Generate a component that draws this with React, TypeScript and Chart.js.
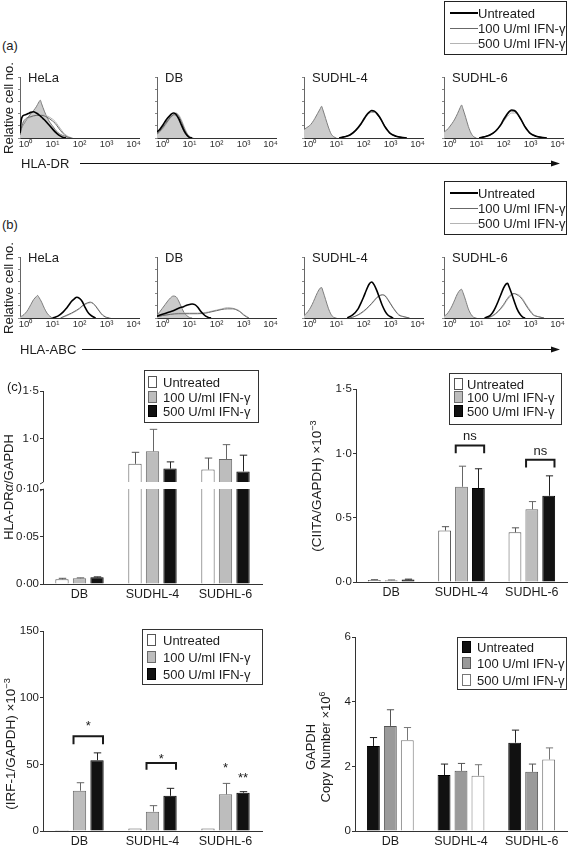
import React, { useEffect, useRef } from "react";
import { Chart, registerables } from "chart.js";

Chart.register(...registerables);

const FONT = "'Liberation Sans', Arial, Helvetica, sans-serif";
Chart.defaults.font.family = FONT;
Chart.defaults.color = "#1c1c1c";

type Pt = [number, number];

// ================= DATA =================
const cellLines = ["HeLa", "DB", "SUDHL-4", "SUDHL-6"];
const treatmentLabels = ["Untreated", "100 U/ml IFN-γ", "500 U/ml IFN-γ"];
const decadeTicks = [0, 1, 2, 3, 4];
const decadeLabels = ["10⁰", "10¹", "10²", "10³", "10⁴"];
const countTicks = [0, 20, 40, 60, 80, 100];

// (a) HLA-DR histograms: [log10 fluorescence, relative cell no. %]
const drHelaControl: Pt[] = [[-0.2,12],[-0.1,20],[0,27],[0.1,34],[0.2,40],[0.3,45],[0.4,51],[0.5,59],[0.55,62],[0.6,56],[0.7,44],[0.8,34],[0.9,26],[1.0,20],[1.1,14],[1.2,9],[1.3,6],[1.45,3],[1.6,1],[1.7,0]];
const drHelaUntreated: Pt[] = [[-0.2,8],[-0.15,30],[-0.1,36],[0,38],[0.1,40],[0.2,42],[0.3,43],[0.4,41],[0.5,38],[0.6,34],[0.7,30],[0.8,25],[0.9,20],[1.0,15],[1.1,10],[1.2,6],[1.3,3],[1.4,1],[1.5,0]];
const drHela100: Pt[] = [[-0.2,5],[-0.1,24],[0,31],[0.2,35],[0.4,37],[0.6,37],[0.8,34],[1.0,28],[1.1,24],[1.2,18],[1.3,12],[1.4,7],[1.5,3],[1.6,1],[1.7,0]];
const drHela500: Pt[] = [[-0.2,5],[-0.1,21],[0,29],[0.2,34],[0.4,37],[0.6,38],[0.8,36],[1.0,31],[1.1,27],[1.2,21],[1.3,15],[1.4,9],[1.5,5],[1.6,2],[1.75,0]];

const drDbControl: Pt[] = [[-0.2,8],[-0.1,12],[0,18],[0.1,24],[0.2,30],[0.3,35],[0.4,38],[0.5,37],[0.6,30],[0.7,20],[0.8,10],[0.9,4],[1.0,1],[1.1,0]];
const drDbUntreated: Pt[] = [[-0.2,10],[-0.1,14],[0,20],[0.1,27],[0.2,33],[0.3,38],[0.4,41],[0.5,39],[0.6,32],[0.7,22],[0.8,12],[0.9,5],[1.0,1],[1.1,0]];
const drDb100: Pt[] = [[-0.2,6],[0,16],[0.1,22],[0.2,28],[0.3,34],[0.4,38],[0.5,40],[0.6,36],[0.7,27],[0.8,16],[0.9,7],[1.0,2],[1.1,0]];
const drDb500: Pt[] = [[-0.2,6],[0,14],[0.1,20],[0.2,27],[0.3,33],[0.4,37],[0.5,41],[0.6,38],[0.7,30],[0.8,19],[0.9,9],[1.0,3],[1.15,0]];

const drSu4Control: Pt[] = [[-0.2,14],[-0.1,17],[0,20],[0.1,25],[0.2,32],[0.3,40],[0.4,48],[0.45,52],[0.5,46],[0.6,32],[0.7,18],[0.8,7],[0.9,2],[1.0,0]];
const drSu4Untreated: Pt[] = [[1.1,0],[1.3,2],[1.5,5],[1.7,12],[1.9,23],[2.0,30],[2.1,37],[2.2,42],[2.3,45],[2.4,44],[2.5,40],[2.6,34],[2.7,26],[2.8,18],[2.9,12],[3.0,7],[3.2,3],[3.4,1],[3.6,0]];
const drSu4100: Pt[] = [[1.1,0],[1.3,2],[1.5,5],[1.7,11],[1.9,22],[2.0,29],[2.1,36],[2.2,41],[2.3,43],[2.4,43],[2.5,39],[2.6,33],[2.7,26],[2.8,18],[2.9,12],[3.0,7],[3.2,3],[3.4,1],[3.6,0]];
const drSu4500: Pt[] = [[1.1,0],[1.3,2],[1.5,6],[1.7,12],[1.9,21],[2.0,28],[2.1,35],[2.2,40],[2.3,42],[2.4,42],[2.5,39],[2.6,34],[2.7,27],[2.8,19],[2.9,13],[3.0,8],[3.2,3],[3.4,1],[3.6,0]];

const drSu6Control: Pt[] = [[-0.2,10],[-0.1,13],[0,18],[0.1,24],[0.2,31],[0.3,40],[0.4,50],[0.45,54],[0.5,48],[0.6,34],[0.7,19],[0.8,8],[0.9,2],[1.0,0]];
const drSu6Untreated: Pt[] = [[1.1,0],[1.3,2],[1.5,5],[1.7,11],[1.9,22],[2.0,30],[2.1,37],[2.2,43],[2.3,46],[2.4,45],[2.5,41],[2.6,34],[2.7,26],[2.8,18],[2.9,12],[3.0,7],[3.2,3],[3.4,1],[3.6,0]];
const drSu6100: Pt[] = [[1.1,0],[1.3,2],[1.5,5],[1.7,10],[1.9,21],[2.0,28],[2.1,35],[2.2,41],[2.3,44],[2.4,44],[2.5,40],[2.6,33],[2.7,26],[2.8,18],[2.9,12],[3.0,7],[3.2,3],[3.4,1],[3.6,0]];
const drSu6500: Pt[] = [[1.1,0],[1.3,2],[1.5,6],[1.7,11],[1.9,20],[2.0,27],[2.1,33],[2.2,38],[2.3,41],[2.4,41],[2.5,39],[2.6,34],[2.7,27],[2.8,19],[2.9,13],[3.0,8],[3.2,3],[3.4,1],[3.6,0]];

// (b) HLA-ABC histograms
const abcHelaControl: Pt[] = [[-0.2,2],[-0.1,4],[0,8],[0.1,14],[0.2,22],[0.3,30],[0.4,35],[0.45,37],[0.5,34],[0.6,26],[0.7,16],[0.8,8],[0.9,3],[1.0,0]];
const abcHelaUntreated: Pt[] = [[1.0,0],[1.2,3],[1.4,10],[1.5,15],[1.6,21],[1.7,27],[1.8,31],[1.9,34],[2.0,32],[2.1,27],[2.2,18],[2.3,10],[2.4,5],[2.5,2],[2.6,0]];
const abcHela100: Pt[] = [[1.3,0],[1.5,4],[1.7,8],[1.9,13],[2.0,16],[2.1,20],[2.2,23],[2.3,25],[2.4,26],[2.5,24],[2.6,19],[2.7,13],[2.8,7],[2.9,3],[3.0,1],[3.1,0]];
const abcHela500: Pt[] = [[1.3,0],[1.5,3],[1.7,7],[1.9,12],[2.0,15],[2.1,19],[2.2,22],[2.3,24],[2.4,25],[2.5,24],[2.6,20],[2.7,14],[2.8,8],[2.9,4],[3.0,1],[3.15,0]];

const abcDbControl: Pt[] = [[-0.2,5],[-0.1,10],[0,16],[0.1,22],[0.2,28],[0.3,33],[0.4,36],[0.5,35],[0.6,28],[0.7,18],[0.8,9],[0.9,4],[1.0,1],[1.1,0]];
const abcDbUntreated: Pt[] = [[-0.2,3],[0,6],[0.2,9],[0.4,12],[0.6,16],[0.8,19],[0.9,21],[1.0,22],[1.1,23],[1.2,22],[1.3,18],[1.4,12],[1.5,7],[1.6,3],[1.7,1],[1.8,0]];
const abcDb100: Pt[] = [[-0.2,2],[0,4],[0.3,6],[0.6,7],[1.0,7],[1.3,7],[1.6,8],[1.8,10],[2.0,12],[2.2,14],[2.4,15],[2.6,15],[2.8,12],[2.9,9],[3.0,5],[3.1,2],[3.2,0]];
const abcDb500: Pt[] = [[-0.2,2],[0,4],[0.3,6],[0.6,8],[1.0,8],[1.3,8],[1.6,9],[1.8,11],[2.0,13],[2.2,15],[2.4,17],[2.6,16],[2.8,13],[2.9,10],[3.0,6],[3.1,3],[3.2,0]];

const abcSu4Control: Pt[] = [[-0.2,4],[-0.1,8],[0,14],[0.1,22],[0.2,32],[0.3,42],[0.4,49],[0.45,50],[0.5,44],[0.6,30],[0.7,16],[0.8,6],[0.9,1],[1.0,0]];
const abcSu4Untreated: Pt[] = [[1.4,0],[1.6,5],[1.8,15],[1.9,24],[2.0,34],[2.1,45],[2.2,55],[2.3,59],[2.4,54],[2.5,44],[2.6,32],[2.7,20],[2.8,11],[2.9,5],[3.0,2],[3.1,0]];
const abcSu4100: Pt[] = [[1.5,0],[1.7,3],[1.9,8],[2.1,15],[2.3,24],[2.4,29],[2.5,34],[2.6,37],[2.7,38],[2.8,36],[2.9,30],[3.0,23],[3.1,16],[3.2,10],[3.3,5],[3.5,2],[3.7,0]];
const abcSu4500: Pt[] = [[1.5,0],[1.7,3],[1.9,7],[2.1,14],[2.3,23],[2.4,28],[2.5,33],[2.6,36],[2.7,38],[2.8,37],[2.9,31],[3.0,24],[3.1,17],[3.2,11],[3.3,6],[3.5,2],[3.7,0]];

const abcSu6Control: Pt[] = [[-0.2,3],[-0.1,6],[0,12],[0.1,20],[0.2,30],[0.3,40],[0.4,46],[0.45,47],[0.5,42],[0.6,29],[0.7,15],[0.8,6],[0.9,1],[1.0,0]];
const abcSu6Untreated: Pt[] = [[1.3,0],[1.5,4],[1.6,9],[1.7,17],[1.8,27],[1.9,38],[2.0,49],[2.1,56],[2.15,57],[2.2,52],[2.3,40],[2.4,27],[2.5,15],[2.6,7],[2.7,2],[2.8,0]];
const abcSu6100: Pt[] = [[1.4,0],[1.6,4],[1.8,11],[2.0,22],[2.1,29],[2.2,35],[2.3,39],[2.4,40],[2.5,38],[2.6,35],[2.7,30],[2.8,23],[2.9,16],[3.0,10],[3.1,5],[3.3,2],[3.5,0]];
const abcSu6500: Pt[] = [[1.4,0],[1.6,3],[1.8,10],[2.0,20],[2.1,27],[2.2,33],[2.3,37],[2.4,40],[2.5,39],[2.6,37],[2.7,32],[2.8,25],[2.9,18],[3.0,12],[3.1,6],[3.3,2],[3.5,0]];

// (c) bar charts
const barCategories = ["DB", "SUDHL-4", "SUDHL-6"];

const hlaDrUntreated = [0.005, 0.74, 0.68];
const hlaDrUntreatedErr = [0.001, 0.12, 0.12];
const hlaDr100 = [0.006, 0.87, 0.79];
const hlaDr100Err = [0.0005, 0.23, 0.15];
const hlaDr500 = [0.007, 0.69, 0.66];
const hlaDr500Err = [0.0005, 0.07, 0.17];
const hlaDrLowTicks = [0, 0.05, 0.1];
const hlaDrLowTickLabels = ["0·00", "0·05", "0·10"];
const hlaDrHighTicks = [1.0, 1.5];
const hlaDrHighTickLabels = ["1·0", "1·5"];

const ciitaUntreated = [0.016, 0.40, 0.386];
const ciitaUntreatedErr = [0.002, 0.03, 0.035];
const ciita100 = [0.014, 0.74, 0.565];
const ciita100Err = [0.002, 0.16, 0.06];
const ciita500 = [0.02, 0.73, 0.67];
const ciita500Err = [0.002, 0.15, 0.155];
const ciitaTicks = [0, 0.5, 1.0, 1.5];
const ciitaTickLabels = ["0·0", "0·5", "1·0", "1·5"];
const ciitaBracketCats = [1, 2];
const ciitaBracketTops = [1.06, 0.95];
const ciitaBracketLegs = [1.0, 0.89];
const ciitaMarkCats = [1, 2];
const ciitaMarkSeries = [-1, -1];
const ciitaMarkValues = [1.134, 1.018];
const ciitaMarkTexts = ["ns", "ns"];

const irfUntreated = [0.7, 1.8, 1.8];
const irfUntreatedErr = [0, 0, 0];
const irf100 = [30.2, 14.5, 27.5];
const irf100Err = [6.0, 4.5, 8.2];
const irf500 = [53.1, 26.4, 28.7];
const irf500Err = [5.5, 5.6, 0.8];
const irfTicks = [0, 50, 100, 150];
const irfBracketCats = [0, 1];
const irfBracketTops = [71, 51];
const irfBracketLegs = [65, 46];
const irfMarkCats = [0, 1, 2, 2];
const irfMarkSeries = [-1, -1, 1, 2];
const irfMarkValues = [78.6, 53.9, 47.2, 39.7];
const irfMarkTexts = ["*", "*", "*", "**"];

const gapdhUntreated = [2.63, 1.73, 2.73];
const gapdhUntreatedErr = [0.26, 0.34, 0.39];
const gapdh100 = [3.25, 1.86, 1.83];
const gapdh100Err = [0.5, 0.23, 0.24];
const gapdh500 = [2.81, 1.71, 2.21];
const gapdh500Err = [0.39, 0.34, 0.36];
const gapdhTicks = [0, 2, 4, 6];

// ================= HELPERS =================
type Area = { left: number; top: number; right: number; bottom: number };
type Pad = { l: number; t: number; r: number; b: number; yW: number; xH: number };

function ChartBox({ area, pad, build }: { area: Area; pad: Pad; build: () => any }) {
  const ref = useRef<HTMLCanvasElement>(null);
  const cl = area.left - pad.yW - pad.l;
  const ct = area.top - pad.t;
  const cw = area.right - area.left + pad.yW + pad.l + pad.r;
  const ch = area.bottom - area.top + pad.t + pad.xH + pad.b;
  useEffect(() => {
    const cfg = build();
    cfg.options.animation = false;
    cfg.options.responsive = false;
    cfg.options.events = [];
    cfg.options.layout = { padding: { left: pad.l, top: pad.t, right: pad.r, bottom: pad.b } };
    cfg.options.scales.x.afterFit = (s: any) => { s.height = pad.xH; s.paddingLeft = 0; s.paddingRight = 0; };
    cfg.options.scales.y.afterFit = (s: any) => { s.width = pad.yW; s.paddingTop = 0; s.paddingBottom = 0; };
    const chart = new Chart(ref.current as HTMLCanvasElement, cfg);
    return () => chart.destroy();
  }, []);
  return (
    <canvas ref={ref} width={cw} height={ch}
      style={{ position: "absolute", left: cl, top: ct, width: cw, height: ch }} />
  );
}

const toXY = (pts: Pt[]) => pts.map(([x, y]) => ({ x, y }));

function histConfig(control: Pt[], untreated: Pt[], ifn100: Pt[], ifn500: Pt[]) {
  return {
    type: "line",
    data: {
      datasets: [
        { data: toXY(untreated), borderColor: "#000", borderWidth: 1.6, fill: false },
        { data: toXY(ifn100), borderColor: "#686868", borderWidth: 1, fill: false },
        { data: toXY(ifn500), borderColor: "#b4b4b4", borderWidth: 1, fill: false },
        { data: toXY(control), borderColor: "#7d7d7d", backgroundColor: "#cbcbcb", borderWidth: 1, fill: "origin" },
      ],
    },
    options: {
      elements: { point: { radius: 0 }, line: { cubicInterpolationMode: "monotone" } },
      plugins: { legend: { display: false }, tooltip: { enabled: false } },
      scales: {
        x: {
          type: "linear", min: -0.2, max: 4.2,
          afterBuildTicks: (s: any) => { s.ticks = decadeTicks.map((v) => ({ value: v })); },
          ticks: { callback: (_v: any, i: number) => decadeLabels[i], font: { size: 9.5 }, padding: 1, maxRotation: 0, autoSkip: false, color: "#333" },
          grid: { display: false, drawTicks: false },
          border: { display: true, color: "#333", width: 1 },
        },
        y: {
          min: 0, max: 100,
          afterBuildTicks: (s: any) => { s.ticks = countTicks.map((v) => ({ value: v })); },
          ticks: { display: false },
          grid: { display: true, drawOnChartArea: false, tickLength: 2, color: "#888" },
          border: { display: true, color: "#666", width: 1 },
        },
      },
    },
  };
}

const errorBarPlugin = {
  id: "errorBars",
  afterDatasetsDraw(chart: any) {
    const { ctx, chartArea: a } = chart;
    const ys = chart.scales.y;
    ctx.save();
    ctx.beginPath();
    ctx.rect(a.left - 3, a.top - 1, a.right - a.left + 6, a.bottom - a.top + 1);
    ctx.clip();
    chart.data.datasets.forEach((ds: any, i: number) => {
      if (!ds.errors) return;
      const meta = chart.getDatasetMeta(i);
      meta.data.forEach((bar: any, j: number) => {
        const e = ds.errors[j];
        if (!e) return;
        const v = ds.data[j];
        const yTop = ys.getPixelForValue(v + e);
        const half = bar.width * 0.28;
        const x = Math.round(bar.x) + 0.5;
        ctx.strokeStyle = ds.errorColor;
        ctx.lineWidth = 1;
        ctx.beginPath();
        ctx.moveTo(x, bar.y);
        ctx.lineTo(x, yTop);
        ctx.moveTo(x - half, yTop);
        ctx.lineTo(x + half, yTop);
        ctx.stroke();
      });
    });
    ctx.restore();
  },
};

function significancePlugin(bCats: number[], bTops: number[], bLegs: number[], mCats: number[], mSeries: number[], mValues: number[], mTexts: string[], size: number) {
  return {
    id: "significance",
    afterDatasetsDraw(chart: any) {
      const { ctx } = chart;
      const ys = chart.scales.y;
      const g = chart.getDatasetMeta(1).data;
      const k = chart.getDatasetMeta(2).data;
      ctx.save();
      ctx.strokeStyle = "#1a1a1a";
      ctx.lineWidth = 2;
      bCats.forEach((c, i) => {
        const x0 = g[c].x - g[c].width * 0.45;
        const x1 = k[c].x + k[c].width * 0.45;
        const yT = ys.getPixelForValue(bTops[i]);
        const yL = ys.getPixelForValue(bLegs[i]);
        ctx.beginPath();
        ctx.moveTo(x0, yL);
        ctx.lineTo(x0, yT);
        ctx.lineTo(x1, yT);
        ctx.lineTo(x1, yL);
        ctx.stroke();
      });
      ctx.fillStyle = "#1a1a1a";
      ctx.textAlign = "center";
      ctx.textBaseline = "middle";
      ctx.font = `${size}px ${FONT}`;
      mCats.forEach((c, i) => {
        const s = mSeries[i];
        const x = s < 0 ? (g[c].x + k[c].x) / 2 : chart.getDatasetMeta(s).data[c].x;
        ctx.fillText(mTexts[i], x, ys.getPixelForValue(mValues[i]));
      });
      ctx.restore();
    },
  };
}

const axisBreakPlugin = {
  id: "axisBreak",
  afterDraw(chart: any) {
    const { ctx, chartArea: a } = chart;
    ctx.save();
    ctx.strokeStyle = "#333";
    ctx.lineWidth = 1;
    ctx.beginPath();
    ctx.moveTo(a.left - 3, a.top + 2);
    ctx.lineTo(a.left + 0.5, a.top);
    ctx.moveTo(a.left - 3, a.top - 5);
    ctx.lineTo(a.left + 0.5, a.top - 7);
    ctx.stroke();
    ctx.restore();
  },
};

type Series = { data: number[]; errors: number[]; fill: string; border: string; err: string };

function barConfig(series: Series[], yMin: number, yMax: number, ticks: number[], tickLabels: string[], showX: boolean, plugins: any[]) {
  return {
    type: "bar",
    data: {
      labels: barCategories,
      datasets: series.map((s, i) => ({
        label: treatmentLabels[i],
        data: s.data,
        errors: s.errors,
        errorColor: s.err,
        backgroundColor: s.fill,
        borderColor: s.border,
        borderWidth: 1,
        borderSkipped: "start",
        categoryPercentage: 0.72,
        barPercentage: 0.76,
        clip: 0,
      })),
    },
    options: {
      plugins: { legend: { display: false }, tooltip: { enabled: false } },
      scales: {
        x: {
          type: "category", offset: true, display: showX,
          grid: { display: false, drawTicks: false },
          border: { display: true, color: "#333", width: 1 },
          ticks: { font: { size: 12.5 }, padding: 3, maxRotation: 0, autoSkip: false, color: "#1c1c1c" },
        },
        y: {
          min: yMin, max: yMax,
          afterBuildTicks: (s: any) => { s.ticks = ticks.map((v) => ({ value: v })); },
          ticks: { callback: (_v: any, i: number) => tickLabels[i], font: { size: 11.5 }, padding: 1, color: "#1c1c1c" },
          grid: { display: true, drawOnChartArea: false, tickLength: 3, color: "#333" },
          border: { display: true, color: "#333", width: 1 },
        },
      },
    },
    plugins: [errorBarPlugin, ...plugins],
  };
}

const WHITE = "#ffffff";
const LIGHT = "#bdbdbd";
const DARK = "#111111";
const MID = "#9a9a9a";

const drSeries: Series[] = [
  { data: hlaDrUntreated, errors: hlaDrUntreatedErr, fill: WHITE, border: "#555", err: "#555" },
  { data: hlaDr100, errors: hlaDr100Err, fill: LIGHT, border: "#6a6a6a", err: "#666" },
  { data: hlaDr500, errors: hlaDr500Err, fill: DARK, border: "#000", err: "#222" },
];
const ciitaSeries: Series[] = [
  { data: ciitaUntreated, errors: ciitaUntreatedErr, fill: WHITE, border: "#555", err: "#555" },
  { data: ciita100, errors: ciita100Err, fill: LIGHT, border: "#6a6a6a", err: "#666" },
  { data: ciita500, errors: ciita500Err, fill: DARK, border: "#000", err: "#222" },
];
const irfSeries: Series[] = [
  { data: irfUntreated, errors: irfUntreatedErr, fill: WHITE, border: "#555", err: "#555" },
  { data: irf100, errors: irf100Err, fill: LIGHT, border: "#6a6a6a", err: "#666" },
  { data: irf500, errors: irf500Err, fill: DARK, border: "#000", err: "#222" },
];
const gapdhSeries: Series[] = [
  { data: gapdhUntreated, errors: gapdhUntreatedErr, fill: DARK, border: "#000", err: "#222" },
  { data: gapdh100, errors: gapdh100Err, fill: MID, border: "#555", err: "#555" },
  { data: gapdh500, errors: gapdh500Err, fill: WHITE, border: "#777", err: "#777" },
];

// ================= TEXT / LEGEND COMPONENTS =================
function Label({ x, y, size = 13, center = false, children }: any) {
  return (
    <div style={{
      position: "absolute", left: x, top: y, fontSize: size, lineHeight: `${size + 2}px`, whiteSpace: "nowrap",
      transform: center ? "translate(-50%,-50%)" : "translateY(-50%)",
    }}>{children}</div>
  );
}

function VLabel({ cx, cy, size = 13, children }: any) {
  return (
    <div style={{
      position: "absolute", left: cx, top: cy, fontSize: size, lineHeight: `${size + 2}px`, whiteSpace: "nowrap",
      textAlign: "center", transform: "translate(-50%,-50%) rotate(-90deg)",
    }}>{children}</div>
  );
}

const supStyle: any = { fontSize: "0.68em", verticalAlign: "super", lineHeight: 0 };

function HistLegend({ top }: { top: number }) {
  const rows = [top + 12, top + 27, top + 42];
  const colors = ["#000", "#686868", "#b4b4b4"];
  const widths = [2, 1, 1];
  return (
    <>
      <div style={{ position: "absolute", left: 444, top, width: 123, height: 54, border: "1.5px solid #222", boxSizing: "border-box" }} />
      {treatmentLabels.map((t, i) => (
        <React.Fragment key={t}>
          <div style={{ position: "absolute", left: 450, top: rows[i] - widths[i] / 2, width: 28, height: widths[i], background: colors[i] }} />
          <Label x={478} y={rows[i]} size={13}>{t}</Label>
        </React.Fragment>
      ))}
    </>
  );
}

function BarLegend({ left, top, width, height, rows, swatchX, textX, fills, borders }: any) {
  return (
    <>
      <div style={{ position: "absolute", left, top, width, height, border: "1.5px solid #333", boxSizing: "border-box", background: "transparent" }} />
      {treatmentLabels.map((t, i) => (
        <React.Fragment key={t}>
          <div style={{ position: "absolute", left: swatchX, top: rows[i] - 6, width: 9, height: 12, background: fills[i], border: `1px solid ${borders[i]}`, boxSizing: "border-box" }} />
          <Label x={textX} y={rows[i]} size={13}>{t}</Label>
        </React.Fragment>
      ))}
    </>
  );
}

// ================= APP =================
const histX = [20, 157, 304, 444];
const histPad: Pad = { l: 2, t: 3, r: 6, b: 1, yW: 3, xH: 13 };

const drPanels = [
  [drHelaControl, drHelaUntreated, drHela100, drHela500],
  [drDbControl, drDbUntreated, drDb100, drDb500],
  [drSu4Control, drSu4Untreated, drSu4100, drSu4500],
  [drSu6Control, drSu6Untreated, drSu6100, drSu6500],
];
const abcPanels = [
  [abcHelaControl, abcHelaUntreated, abcHela100, abcHela500],
  [abcDbControl, abcDbUntreated, abcDb100, abcDb500],
  [abcSu4Control, abcSu4Untreated, abcSu4100, abcSu4500],
  [abcSu6Control, abcSu6Untreated, abcSu6100, abcSu6500],
];

function HistRow({ panels, top, bottom }: { panels: Pt[][][]; top: number; bottom: number }) {
  return (
    <>
      {panels.map((p, i) => (
        <ChartBox key={i} area={{ left: histX[i], top, right: histX[i] + 119, bottom }} pad={histPad}
          build={() => histConfig(p[0], p[1], p[2], p[3])} />
      ))}
      {cellLines.map((n, i) => (
        <Label key={n} x={histX[i] + 8} y={top} size={13}>{n}</Label>
      ))}
    </>
  );
}

export default function App() {
  useEffect(() => {
    document.body.style.margin = "0";
    document.body.style.overflow = "hidden";
  }, []);
  const barPad: Pad = { l: 2, t: 8, r: 4, b: 0, yW: 40, xH: 18 };
  return (
    <div style={{ position: "absolute", left: 0, top: 0, width: 569, height: 849, overflow: "hidden", background: "#fff", fontFamily: FONT, color: "#1c1c1c" }}>
      {/* (a) */}
      <HistRow panels={drPanels} top={77} bottom={138} />
      {/* (b) */}
      <HistRow panels={abcPanels} top={257} bottom={318} />

      {/* (c) HLA-DRα/GAPDH broken axis: upper + lower segment */}
      <ChartBox area={{ left: 43, top: 391, right: 262, bottom: 482 }} pad={{ l: 2, t: 8, r: 4, b: 0, yW: 40, xH: 0 }}
        build={() => barConfig(drSeries, 0.55, 1.5, hlaDrHighTicks, hlaDrHighTickLabels, false, [])} />
      <ChartBox area={{ left: 43, top: 489, right: 262, bottom: 584 }} pad={{ l: 2, t: 8, r: 4, b: 2, yW: 40, xH: 18 }}
        build={() => barConfig(drSeries, 0, 0.1, hlaDrLowTicks, hlaDrLowTickLabels, true, [axisBreakPlugin])} />
      <ChartBox area={{ left: 356, top: 389, right: 567, bottom: 582 }} pad={{ l: 2, t: 8, r: 1, b: 2, yW: 40, xH: 18 }}
        build={() => barConfig(ciitaSeries, 0, 1.5, ciitaTicks, ciitaTickLabels, true,
          [significancePlugin(ciitaBracketCats, ciitaBracketTops, ciitaBracketLegs, ciitaMarkCats, ciitaMarkSeries, ciitaMarkValues, ciitaMarkTexts, 13)])} />
      <ChartBox area={{ left: 43, top: 631, right: 262, bottom: 831 }} pad={barPad}
        build={() => barConfig(irfSeries, 0, 150, irfTicks, irfTicks.map(String), true,
          [significancePlugin(irfBracketCats, irfBracketTops, irfBracketLegs, irfMarkCats, irfMarkSeries, irfMarkValues, irfMarkTexts, 13)])} />
      <ChartBox area={{ left: 355, top: 637, right: 567, bottom: 831 }} pad={{ l: 2, t: 8, r: 1, b: 0, yW: 40, xH: 18 }}
        build={() => barConfig(gapdhSeries, 0, 6, gapdhTicks, gapdhTicks.map(String), true, [])} />

      {/* panel labels */}
      <Label x={2} y={45} size={13}>(a)</Label>
      <Label x={2} y={224} size={13}>(b)</Label>
      <Label x={7} y={386} size={13}>(c)</Label>

      <VLabel cx={8} cy={108} size={13}>Relative cell no.</VLabel>
      <VLabel cx={8} cy={288} size={13}>Relative cell no.</VLabel>

      <Label x={21} y={163} size={13}>HLA-DR</Label>
      <Label x={20} y={349} size={13}>HLA-ABC</Label>
      <svg width={569} height={849} style={{ position: "absolute", left: 0, top: 0, pointerEvents: "none" }}>
        <line x1={80} y1={163.5} x2={552} y2={163.5} stroke="#111" strokeWidth={1.2} />
        <polygon points="551,160.5 560,163.5 551,166.5" fill="#111" />
        <line x1={82} y1={349.5} x2={552} y2={349.5} stroke="#111" strokeWidth={1.2} />
        <polygon points="551,346.5 560,349.5 551,352.5" fill="#111" />
      </svg>

      <HistLegend top={1} />
      <HistLegend top={181} />

      {/* (c) legends */}
      <BarLegend left={144} top={370} width={115} height={53} rows={[382, 397, 411]} swatchX={148} textX={163}
        fills={[WHITE, LIGHT, DARK]} borders={["#555", "#6a6a6a", "#000"]} />
      <BarLegend left={449} top={373} width={113} height={52} rows={[384, 397, 411]} swatchX={454} textX={467}
        fills={[WHITE, LIGHT, DARK]} borders={["#555", "#6a6a6a", "#000"]} />
      <BarLegend left={142} top={629} width={121} height={56} rows={[640, 657, 674]} swatchX={147} textX={163}
        fills={[WHITE, LIGHT, DARK]} borders={["#555", "#6a6a6a", "#000"]} />
      <BarLegend left={457} top={637} width={110} height={53} rows={[647, 663, 680]} swatchX={462} textX={477}
        fills={[DARK, MID, WHITE]} borders={["#000", "#555", "#777"]} />

      {/* (c) axis titles */}
      <VLabel cx={8} cy={487} size={13}>HLA-DR<i>α</i>/GAPDH</VLabel>
      <VLabel cx={317} cy={486} size={13.5}>(CIITA/GAPDH) ×10<span style={supStyle}>−3</span></VLabel>
      <VLabel cx={11} cy={744} size={13.5}>(IRF-1/GAPDH) ×10<span style={supStyle}>−3</span></VLabel>
      <VLabel cx={318} cy={747} size={13}>GAPDH<br />Copy Number ×10<span style={supStyle}>6</span></VLabel>
    </div>
  );
}
